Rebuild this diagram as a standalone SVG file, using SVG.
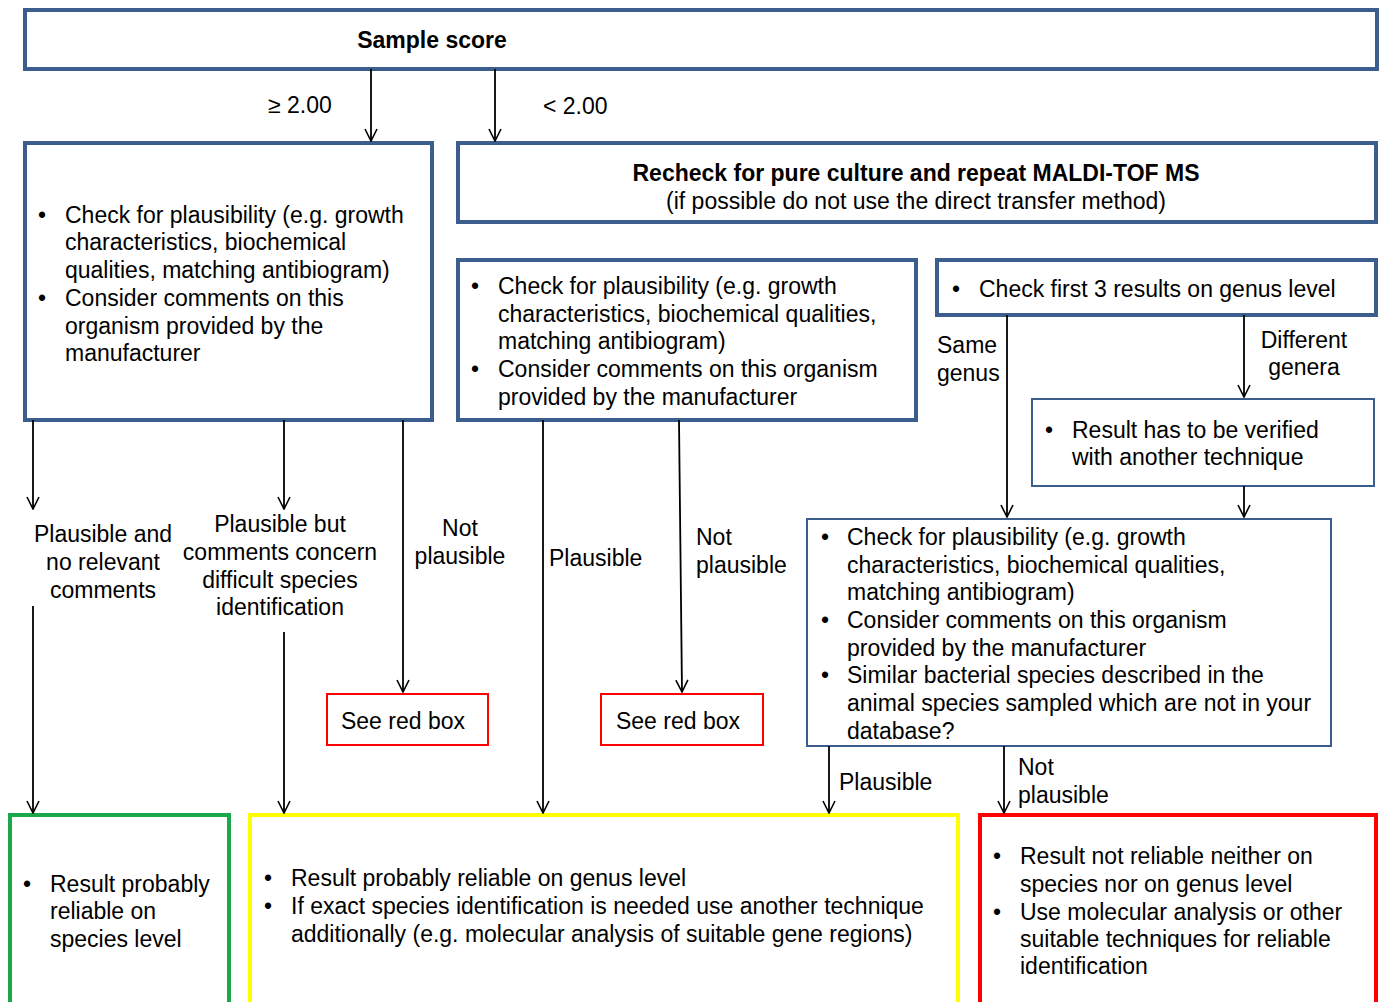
<svg xmlns="http://www.w3.org/2000/svg" width="1383" height="1002" viewBox="0 0 1383 1002">
<defs>
<marker id="arr" viewBox="0 0 14 14" refX="13" refY="7" markerWidth="14" markerHeight="14" markerUnits="userSpaceOnUse" orient="auto">
<path d="M1,1 L13,7 L1,13" fill="none" stroke="#000" stroke-width="1.6"/>
</marker>
<style>
text{font-family:"Liberation Sans",Arial,sans-serif;font-size:23px;fill:#000}
.b{font-weight:bold}
.m{text-anchor:middle}
.thick{fill:#fff;stroke:#3b5e8e;stroke-width:4}
.thin{fill:#fff;stroke:#3b5e8e;stroke-width:2}
.redthin{fill:#fff;stroke:#ff0000;stroke-width:2}
.conn line{stroke:#000;stroke-width:1.8;marker-end:url(#arr)}
</style>
</defs>
<rect width="1383" height="1002" fill="#fff"/>

<g id="sample-score">
<rect class="thick" x="25" y="10" width="1352" height="59"/>
<text class="b m" x="432" y="48">Sample score</text>
</g>

<g id="check-left">
<rect class="thick" x="25" y="143" width="407" height="277"/>
<text x="38" y="223">•</text><text x="65" y="223">Check for plausibility (e.g. growth</text>
<text x="65" y="250">characteristics, biochemical</text>
<text x="65" y="278">qualities, matching antibiogram)</text>
<text x="38" y="306">•</text><text x="65" y="306">Consider comments on this</text>
<text x="65" y="334">organism provided by the</text>
<text x="65" y="361">manufacturer</text>
</g>

<g id="recheck">
<rect class="thick" x="458" y="143" width="918" height="79"/>
<text class="b m" x="916" y="181">Recheck for pure culture and repeat MALDI-TOF MS</text>
<text class="m" x="916" y="209">(if possible do not use the direct transfer method)</text>
</g>

<g id="check-middle">
<rect class="thick" x="458" y="260" width="458" height="160"/>
<text x="471" y="294">•</text><text x="498" y="294">Check for plausibility (e.g. growth</text>
<text x="498" y="322">characteristics, biochemical qualities,</text>
<text x="498" y="349">matching antibiogram)</text>
<text x="471" y="377">•</text><text x="498" y="377">Consider comments on this organism</text>
<text x="498" y="405">provided by the manufacturer</text>
</g>

<g id="genus-check">
<rect class="thick" x="937" y="260" width="439" height="55"/>
<text x="952" y="297">•</text><text x="979" y="297">Check first 3 results on genus level</text>
</g>

<g id="verify">
<rect class="thin" x="1032" y="399" width="342" height="87"/>
<text x="1045" y="438">•</text><text x="1072" y="438">Result has to be verified</text>
<text x="1072" y="465">with another technique</text>
</g>

<g id="check-right">
<rect class="thin" x="807" y="519" width="524" height="227"/>
<text x="821" y="545">•</text><text x="847" y="545">Check for plausibility (e.g. growth</text>
<text x="847" y="573">characteristics, biochemical qualities,</text>
<text x="847" y="600">matching antibiogram)</text>
<text x="821" y="628">•</text><text x="847" y="628">Consider comments on this organism</text>
<text x="847" y="656">provided by the manufacturer</text>
<text x="821" y="683">•</text><text x="847" y="683">Similar bacterial species described in the</text>
<text x="847" y="711">animal species sampled which are not in your</text>
<text x="847" y="739">database?</text>
</g>

<g id="red-box-1">
<rect class="redthin" x="327" y="694" width="161" height="51"/>
<text class="m" x="403" y="729">See red box</text>
</g>

<g id="red-box-2">
<rect class="redthin" x="601" y="694" width="162" height="51"/>
<text class="m" x="678" y="729">See red box</text>
</g>

<g id="result-species">
<rect x="10" y="815" width="219" height="200" fill="#fff" stroke="#1aa84b" stroke-width="4"/>
<text x="23" y="892">•</text><text x="50" y="892">Result probably</text>
<text x="50" y="919">reliable on</text>
<text x="50" y="947">species level</text>
</g>

<g id="result-genus">
<rect x="250" y="815" width="708" height="200" fill="#fff" stroke="#ffff00" stroke-width="4"/>
<text x="264" y="886">•</text><text x="291" y="886">Result probably reliable on genus level</text>
<text x="264" y="914">•</text><text x="291" y="914">If exact species identification is needed use another technique</text>
<text x="291" y="942">additionally (e.g. molecular analysis of suitable gene regions)</text>
</g>

<g id="result-not-reliable">
<rect x="980" y="815" width="396" height="200" fill="#fff" stroke="#ff0000" stroke-width="4"/>
<text x="993" y="864">•</text><text x="1020" y="864">Result not reliable neither on</text>
<text x="1020" y="892">species nor on genus level</text>
<text x="993" y="920">•</text><text x="1020" y="920">Use molecular analysis or other</text>
<text x="1020" y="947">suitable techniques for reliable</text>
<text x="1020" y="974">identification</text>
</g>

<g id="connectors" class="conn">
<line x1="371" y1="69" x2="371" y2="141"/>
<line x1="495" y1="69" x2="495" y2="141"/>
<line x1="33" y1="420" x2="33" y2="509"/>
<line x1="284" y1="420" x2="284" y2="509"/>
<line x1="403" y1="420" x2="403" y2="692"/>
<line x1="33" y1="606" x2="33" y2="813"/>
<line x1="284" y1="632" x2="284" y2="813"/>
<line x1="543" y1="420" x2="543" y2="813"/>
<line x1="679" y1="420" x2="682" y2="692"/>
<line x1="1007" y1="315" x2="1007" y2="517"/>
<line x1="1244" y1="315" x2="1244" y2="397"/>
<line x1="1244" y1="486" x2="1244" y2="517"/>
<line x1="829" y1="746" x2="829" y2="813"/>
<line x1="1004" y1="746" x2="1004" y2="813"/>
</g>

<g id="labels">
<text x="268" y="113">≥ 2.00</text>
<text x="543" y="114">&lt; 2.00</text>
<text class="m" x="103" y="542">Plausible and</text>
<text class="m" x="103" y="570">no relevant</text>
<text class="m" x="103" y="598">comments</text>
<text class="m" x="280" y="532">Plausible but</text>
<text class="m" x="280" y="560">comments concern</text>
<text class="m" x="280" y="588">difficult species</text>
<text class="m" x="280" y="615">identification</text>
<text class="m" x="460" y="536">Not</text>
<text class="m" x="460" y="564">plausible</text>
<text x="549" y="566">Plausible</text>
<text x="696" y="545">Not</text>
<text x="696" y="573">plausible</text>
<text x="937" y="353">Same</text>
<text x="937" y="381">genus</text>
<text class="m" x="1304" y="348">Different</text>
<text class="m" x="1304" y="375">genera</text>
<text x="839" y="790">Plausible</text>
<text x="1018" y="775">Not</text>
<text x="1018" y="803">plausible</text>
</g>
</svg>
